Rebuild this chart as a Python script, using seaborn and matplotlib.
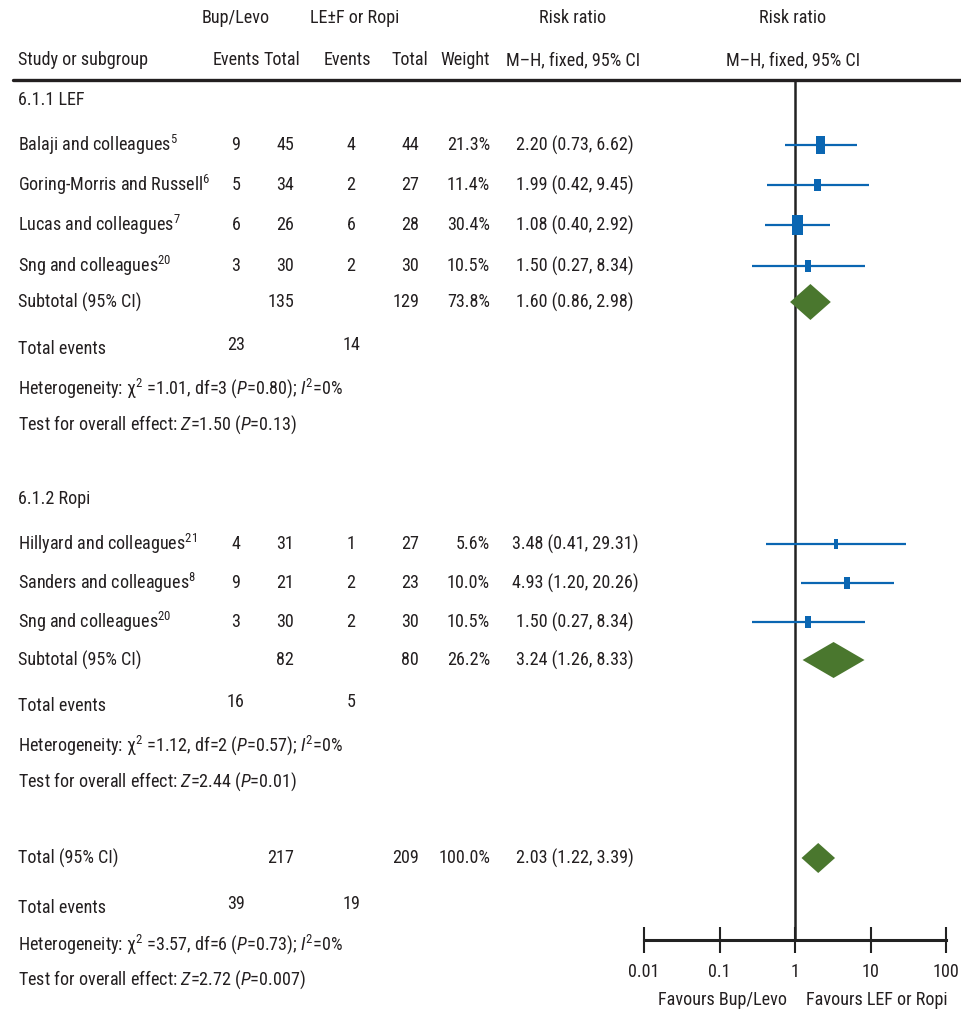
import numpy as np
import matplotlib
matplotlib.use("Agg")
import matplotlib.pyplot as plt
from matplotlib import font_manager
from matplotlib.lines import Line2D
from matplotlib.path import Path
import seaborn as sns

# ── data ─────────────────────────────────────────────────────
lef_names = ["Balaji and colleagues", "Goring-Morris and Russell",
             "Lucas and colleagues", "Sng and colleagues"]
lef_refs = ["5", "6", "7", "20"]
lef_ev_bup = [9, 5, 6, 3]
lef_tot_bup = [45, 34, 26, 30]
lef_ev_le = [4, 2, 6, 2]
lef_tot_le = [44, 27, 28, 30]
lef_weight = [21.3, 11.4, 30.4, 10.5]
lef_rr = [2.20, 1.99, 1.08, 1.50]
lef_lo = [0.73, 0.42, 0.40, 0.27]
lef_hi = [6.62, 9.45, 2.92, 8.34]

ropi_names = ["Hillyard and colleagues", "Sanders and colleagues", "Sng and colleagues"]
ropi_refs = ["21", "8", "20"]
ropi_ev_bup = [4, 9, 3]
ropi_tot_bup = [31, 21, 30]
ropi_ev_le = [1, 2, 2]
ropi_tot_le = [27, 23, 30]
ropi_weight = [5.6, 10.0, 10.5]
ropi_rr = [3.48, 4.93, 1.50]
ropi_lo = [0.41, 1.20, 0.27]
ropi_hi = [29.31, 20.26, 8.34]

# pooled rows: LEF subtotal, Ropi subtotal, overall total
pool_labels = ["Subtotal (95% CI)", "Subtotal (95% CI)", "Total (95% CI)"]
pool_tot_bup = [135, 82, 217]
pool_tot_le = [129, 80, 209]
pool_weight = [73.8, 26.2, 100.0]
pool_rr = [1.60, 3.24, 2.03]
pool_lo = [0.86, 1.26, 1.22]
pool_hi = [2.98, 8.33, 3.39]
pool_events_bup = [23, 16, 39]
pool_events_le = [14, 5, 19]
pool_chi2 = ["1.01", "1.12", "3.57"]
pool_df = [3, 2, 6]
pool_p_het = ["0.80", "0.57", "0.73"]
pool_i2 = [0, 0, 0]
pool_z = ["1.50", "2.44", "2.72"]
pool_p_z = ["0.13", "0.01", "0.007"]

x_ticks = [0.01, 0.1, 1, 10, 100]
x_ticklabels = ["0.01", "0.1", "1", "10", "100"]

# ── layout (pixel rows / columns of the 961x1023 canvas) ─────
W, H = 961, 1023
rows_lef = [145, 185, 225, 266]
rows_ropi = [544, 583, 622]
rows_pool = [302, 660, 858]
rows_events = [347, 704, 906]
rows_het = [388, 745, 944]
rows_test = [425, 782, 980]

col_name = 18
col_ev_bup = 236
col_tot_bup = 294
col_ev_le = 351
col_tot_le = 419
col_weight = 490
col_rr = 575

# ── style ────────────────────────────────────────────────────
sns.set_theme(style="white")
names = {f.name for f in font_manager.fontManager.ttflist}
candidates = ["Liberation Sans Narrow", "Arial Narrow", "Nimbus Sans Narrow",
              "Roboto Condensed", "Archivo Narrow", "PT Sans Narrow",
              "Fira Sans Condensed", "IBM Plex Sans Condensed", "Liberation Sans"]
main_font = next(c for c in candidates if c in names)
plt.rcParams["font.family"] = [main_font, "DejaVu Sans"]
plt.rcParams["mathtext.fontset"] = "custom"
plt.rcParams["mathtext.rm"] = main_font
plt.rcParams["mathtext.it"] = main_font + ":italic"
plt.rcParams["mathtext.default"] = "regular"

TXT = "#231f20"
BLUE = "#0a66b2"
GREEN = "#4a772e"


def fx(px):
    return px / W


def fy(py):
    return 1 - py / H


fig = plt.figure(figsize=(9.61, 10.23), dpi=100)

# size the text so "Study or subgroup" is as wide as in the source (~128 px)
probe = fig.text(0, 0, "Study or subgroup", fontsize=10)
probe_w = probe.get_window_extent(renderer=fig.canvas.get_renderer()).width
probe.remove()
FS = 10 * 130 / probe_w


def put(px, py, s, ha="left", **kw):
    fig.text(fx(px), fy(py), s, ha=ha, va="center", fontsize=FS, color=TXT, **kw)


# header
put(236, 18, "Bup/Levo", ha="center")
put(355, 18, "LE±F or Ropi", ha="center")
put(573, 18, "Risk ratio", ha="center")
put(793, 18, "Risk ratio", ha="center")
put(col_name, 60, "Study or subgroup")
put(236, 60, "Events", ha="center")
put(282, 60, "Total", ha="center")
put(347, 60, "Events", ha="center")
put(410, 60, "Total", ha="center")
put(col_weight, 60, "Weight", ha="right")
put(573, 60, "M–H, fixed, 95% CI", ha="center")
put(793, 60, "M–H, fixed, 95% CI", ha="center")
fig.add_artist(Line2D([fx(13), 1.0], [fy(80), fy(80)], color=TXT, lw=2.4))

put(col_name, 100, "6.1.1 LEF")
put(col_name, 499, "6.1.2 Ropi")


def study_rows(rows, nm, refs, evb, totb, evl, totl, wt, rr, lo, hi):
    for i, r in enumerate(rows):
        put(col_name, r, nm[i] + r"$^{" + refs[i] + "}$")
        put(col_ev_bup, r, str(evb[i]), ha="center")
        put(col_tot_bup, r, str(totb[i]), ha="right")
        put(col_ev_le, r, str(evl[i]), ha="center")
        put(col_tot_le, r, str(totl[i]), ha="right")
        put(col_weight, r, f"{wt[i]:.1f}%", ha="right")
        put(col_rr, r, f"{rr[i]:.2f} ({lo[i]:.2f}, {hi[i]:.2f})", ha="center")


study_rows(rows_lef, lef_names, lef_refs, lef_ev_bup, lef_tot_bup, lef_ev_le,
           lef_tot_le, lef_weight, lef_rr, lef_lo, lef_hi)
study_rows(rows_ropi, ropi_names, ropi_refs, ropi_ev_bup, ropi_tot_bup, ropi_ev_le,
           ropi_tot_le, ropi_weight, ropi_rr, ropi_lo, ropi_hi)

for k in range(3):
    r = rows_pool[k]
    put(col_name, r, pool_labels[k])
    put(col_tot_bup, r, str(pool_tot_bup[k]), ha="right")
    put(col_tot_le, r, str(pool_tot_le[k]), ha="right")
    put(col_weight, r, f"{pool_weight[k]:.1f}%", ha="right")
    put(col_rr, r, f"{pool_rr[k]:.2f} ({pool_lo[k]:.2f}, {pool_hi[k]:.2f})", ha="center")
    put(col_name, rows_events[k] + 2, "Total events")
    put(col_ev_bup, rows_events[k] - 2, str(pool_events_bup[k]), ha="center")
    put(col_ev_le, rows_events[k] - 2, str(pool_events_le[k]), ha="center")
    put(col_name, rows_het[k],
        "Heterogeneity: χ$^{2}$ =" + pool_chi2[k] + f", df={pool_df[k]} ($\\mathit{{P}}$="
        + pool_p_het[k] + "); $\\mathit{I}^{2}$=" + f"{pool_i2[k]}%")
    put(col_name, rows_test[k],
        "Test for overall effect: $\\mathit{Z}$=" + pool_z[k] + " ($\\mathit{P}$=" + pool_p_z[k] + ")")

# ── forest panel: log-scale axis, rows in pixel units ────────
ax = fig.add_axes([fx(644), 0, fx(946) - fx(644), 1])
ax.set_xscale("log")

ax.vlines(1, 80, 940, color="#222222", lw=1.8, zorder=1)

all_rows = rows_lef + rows_ropi
all_rr = lef_rr + ropi_rr
all_lo = lef_lo + ropi_lo
all_hi = lef_hi + ropi_hi
all_w = lef_weight + ropi_weight
ax.hlines(all_rows, all_lo, all_hi, color=BLUE, lw=1.6, zorder=2)

rect = Path([(-0.25, -0.5), (0.25, -0.5), (0.25, 0.5), (-0.25, 0.5), (-0.25, -0.5)],
            [Path.MOVETO, Path.LINETO, Path.LINETO, Path.LINETO, Path.CLOSEPOLY])
sns.scatterplot(x=all_rr, y=all_rows, size=all_w,
                sizes=(7.5 * min(all_w), 7.5 * max(all_w)),
                marker=rect, color=BLUE, linewidth=0, legend=False, ax=ax, zorder=3)

half_h = [18, 18, 15]
for k in range(3):
    y = rows_pool[k]
    ax.fill([pool_lo[k], pool_rr[k], pool_hi[k], pool_rr[k]],
            [y, y - half_h[k], y, y + half_h[k]], color=GREEN, lw=0, zorder=3)

ax.set_xlim(0.01, 100)
ax.set_ylim(H, 0)
ax.axis("off")

# bottom scale
axb = fig.add_axes([fx(644), fy(940), fx(946) - fx(644), 0.0001])
axb.set_xscale("log")
axb.set_xlim(0.01, 100)
for s in ["top", "left", "right"]:
    axb.spines[s].set_visible(False)
axb.spines["bottom"].set_linewidth(2.2)
axb.spines["bottom"].set_color("#222222")
axb.set_yticks([])
axb.set_xticks(x_ticks)
axb.set_xticklabels(x_ticklabels)
axb.xaxis.set_minor_locator(matplotlib.ticker.NullLocator())
axb.tick_params(axis="x", direction="inout", length=19, width=1.5, color="#222222",
                labelsize=FS, labelcolor=TXT, pad=7, bottom=True)
axb.patch.set_alpha(0)

put(722, 1000, "Favours Bup/Levo", ha="center")
put(877, 1000, "Favours LEF or Ropi", ha="center")

fig.savefig("out.png", dpi=100)
